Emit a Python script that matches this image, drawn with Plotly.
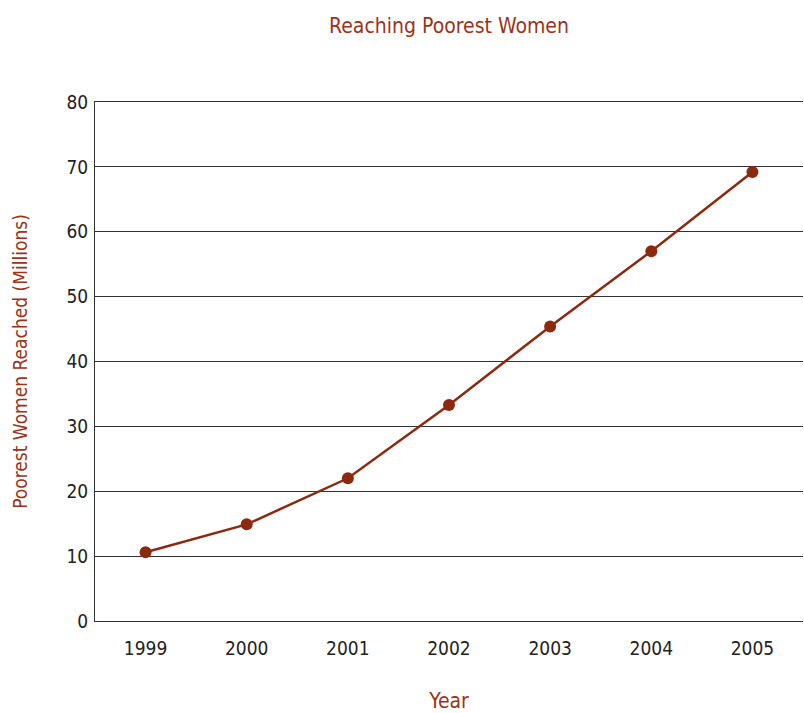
import plotly.graph_objects as go

years = ["1999", "2000", "2001", "2002", "2003", "2004", "2005"]
women_millions = [10.6, 14.9, 22.0, 33.3, 45.4, 57.0, 69.2]
y_ticks = [0, 10, 20, 30, 40, 50, 60, 70, 80]

red = "#8c2a10"
text_red = "#9e3218"
font_family = "Liberation Sans Narrow, DejaVu Sans Condensed, sans-serif"

fig = go.Figure()
fig.add_trace(go.Scatter(
    x=years, y=women_millions, mode="lines+markers",
    line=dict(color=red, width=2.5),
    marker=dict(color=red, size=12),
    showlegend=False,
))

fig.update_layout(
    width=804, height=713,
    margin=dict(l=95, r=1, t=102, b=92),
    paper_bgcolor="white", plot_bgcolor="white",
    font=dict(family=font_family, size=19, color="#222222"),
    title=dict(text="Reaching Poorest Women", x=0.5, xref="paper", y=0.964, yref="container",
               xanchor="center", yanchor="middle",
               font=dict(family=font_family, size=21, color=text_red)),
)
fig.update_xaxes(
    type="category", range=[-0.5, 6.5], automargin=False,
    showgrid=False, showline=True, mirror=True, linecolor="#333333", linewidth=1,
    ticks="", ticklabelstandoff=10,
    tickfont=dict(size=19, color="#222222"),
    title=dict(text="Year", font=dict(size=21, color=text_red), standoff=46),
)
fig.update_yaxes(
    range=[0, 80], tickvals=y_ticks, automargin=False,
    showgrid=True, gridcolor="#333333", gridwidth=1,
    showline=True, linecolor="#333333", linewidth=1,
    zeroline=True, zerolinecolor="#333333", zerolinewidth=1.5,
    ticks="", ticklen=0, ticklabelstandoff=2,
    tickfont=dict(size=19, color="#222222"),
    title=dict(text="Poorest Women Reached (Millions)", font=dict(size=19, color=text_red), standoff=33),
)

fig.write_html("out.html")
